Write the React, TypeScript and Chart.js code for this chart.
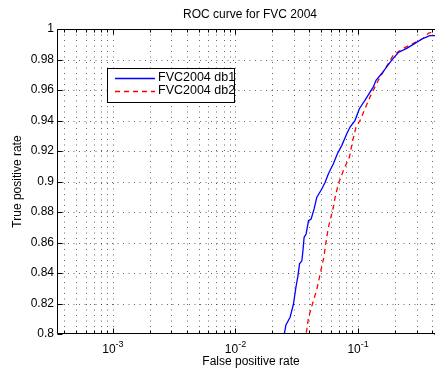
import { useEffect, useRef } from "react";
import { Chart, registerables } from "chart.js";

Chart.register(...registerables);

const chartTitle = "ROC curve for FVC 2004";
const xAxisTitle = "False positive rate";
const yAxisTitle = "True positive rate";
const seriesNames = ["FVC2004 db1", "FVC2004 db2"];

const db1Fpr = [0.0245, 0.025, 0.0258, 0.0279, 0.0297, 0.0311, 0.0323, 0.0333, 0.0348, 0.0355, 0.0363, 0.0377, 0.0394, 0.0414, 0.0438, 0.0461, 0.0506, 0.0539, 0.0573, 0.0629, 0.0678, 0.0737, 0.0809, 0.0861, 0.0945, 0.1025, 0.114, 0.1332, 0.1401, 0.156, 0.1713, 0.1881, 0.2129, 0.2493, 0.2912, 0.3403, 0.3858, 0.4181, 0.5];
const db1Tpr = [0.795, 0.8, 0.806, 0.811, 0.8195, 0.8305, 0.838, 0.846, 0.848, 0.8546, 0.8634, 0.8656, 0.8743, 0.8754, 0.882, 0.8897, 0.8951, 0.8995, 0.9051, 0.9116, 0.9182, 0.9237, 0.9313, 0.9357, 0.9401, 0.9477, 0.9533, 0.962, 0.9664, 0.9708, 0.9752, 0.9796, 0.9846, 0.9873, 0.9906, 0.9939, 0.9956, 0.9956, 0.9956];

const db2Fpr = [0.037, 0.0377, 0.0394, 0.042, 0.0461, 0.049, 0.0529, 0.0539, 0.0573, 0.0629, 0.065, 0.0691, 0.0759, 0.085, 0.0905, 0.0963, 0.1038, 0.114, 0.1252, 0.1375, 0.1463, 0.1607, 0.1765, 0.1939, 0.2338, 0.282, 0.3403, 0.3737, 0.4058, 0.45];
const db2Tpr = [0.795, 0.8, 0.8107, 0.8184, 0.8294, 0.8393, 0.8513, 0.8568, 0.87, 0.8831, 0.8897, 0.8985, 0.9072, 0.916, 0.927, 0.9357, 0.9401, 0.9478, 0.9555, 0.962, 0.9664, 0.972, 0.9774, 0.9829, 0.9873, 0.9906, 0.9939, 0.9971, 0.9982, 1.0];

const yTicks = [0.8, 0.82, 0.84, 0.86, 0.88, 0.9, 0.92, 0.94, 0.96, 0.98, 1];
const yTickLabels = ["0.8", "0.82", "0.84", "0.86", "0.88", "0.9", "0.92", "0.94", "0.96", "0.98", "1"];
const xMajorTicks = [0.001, 0.01, 0.1];
const xTickExponents = ["-3", "-2", "-1"];
const xDecades = [-4, -3, -2, -1, 0];
const xMin = 0.00035;
const xMax = 0.466;
const yMin = 0.8;
const yMax = 1;

const FONT = "Liberation Sans, Arial, Helvetica, sans-serif";

const matlabPlugin = {
  id: "matlabDecor",
  beforeDatasetsDraw(chart: any) {
    const { ctx, chartArea: a, scales } = chart;
    const xs = scales.x;
    const ys = scales.y;
    ctx.save();
    ctx.strokeStyle = "rgba(0,0,0,0.6)";
    ctx.lineWidth = 1;
    ctx.setLineDash([1, 4.5]);
    for (const d of xDecades) {
      for (let k = 1; k <= 9; k++) {
        const v = k * Math.pow(10, d);
        if (v <= xMin || v >= xMax) continue;
        const px = Math.round(xs.getPixelForValue(v)) + 0.5;
        ctx.beginPath();
        ctx.moveTo(px, a.top);
        ctx.lineTo(px, a.bottom);
        ctx.stroke();
      }
    }
    for (const t of yTicks) {
      if (t <= yMin || t >= yMax) continue;
      const py = Math.round(ys.getPixelForValue(t)) + 0.5;
      ctx.beginPath();
      ctx.moveTo(a.left, py);
      ctx.lineTo(a.right, py);
      ctx.stroke();
    }
    ctx.restore();
  },
  afterDatasetsDraw(chart: any) {
    const { ctx, chartArea: a, scales } = chart;
    const xs = scales.x;
    const ys = scales.y;
    ctx.save();
    ctx.setLineDash([]);
    ctx.strokeStyle = "#000";
    ctx.lineWidth = 1;
    const L = Math.round(a.left) + 0.5;
    const R = Math.round(a.right) - 0.5;
    const T = Math.round(a.top) + 0.5;
    const B = Math.round(a.bottom) - 0.5;
    ctx.beginPath();
    ctx.rect(L, T, R - L, B - T);
    ctx.stroke();
    for (const t of yTicks) {
      const py = Math.round(ys.getPixelForValue(t)) + 0.5;
      ctx.beginPath();
      ctx.moveTo(L, py);
      ctx.lineTo(L + 5, py);
      ctx.moveTo(R, py);
      ctx.lineTo(R - 5, py);
      ctx.stroke();
    }
    for (const d of xDecades) {
      for (let k = 1; k <= 9; k++) {
        const v = k * Math.pow(10, d);
        if (v <= xMin || v >= xMax) continue;
        const len = k === 1 ? 5 : 3;
        const px = Math.round(xs.getPixelForValue(v)) + 0.5;
        ctx.beginPath();
        ctx.moveTo(px, B);
        ctx.lineTo(px, B - len);
        ctx.moveTo(px, T);
        ctx.lineTo(px, T + len);
        ctx.stroke();
      }
    }
    ctx.fillStyle = "#000";
    ctx.font = `12px ${FONT}`;
    ctx.textAlign = "right";
    ctx.textBaseline = "middle";
    yTicks.forEach((t, i) => {
      ctx.fillText(yTickLabels[i], a.left - 3, ys.getPixelForValue(t));
    });
    xMajorTicks.forEach((v, i) => {
      const px = xs.getPixelForValue(v);
      ctx.font = `12px ${FONT}`;
      const w1 = ctx.measureText("10").width;
      ctx.font = `9px ${FONT}`;
      const w2 = ctx.measureText(xTickExponents[i]).width;
      const start = px - (w1 + w2) / 2;
      ctx.textAlign = "left";
      ctx.textBaseline = "alphabetic";
      ctx.font = `12px ${FONT}`;
      ctx.fillText("10", start, a.bottom + 19);
      ctx.font = `9px ${FONT}`;
      ctx.fillText(xTickExponents[i], start + w1, a.bottom + 13);
    });
    ctx.font = `12px ${FONT}`;
    ctx.textAlign = "center";
    ctx.textBaseline = "middle";
    ctx.fillText(chartTitle, 250, 15);
    ctx.fillText(xAxisTitle, 251, 362);
    ctx.save();
    ctx.translate(18, (a.top + a.bottom) / 2);
    ctx.rotate(-Math.PI / 2);
    ctx.fillText(yAxisTitle, 0, 0);
    ctx.restore();
    const lx = 107.5, ly = 68.5, lw = 127, lh = 34;
    ctx.fillStyle = "#fff";
    ctx.fillRect(lx, ly, lw, lh);
    ctx.strokeStyle = "#000";
    ctx.lineWidth = 1;
    ctx.strokeRect(lx, ly, lw, lh);
    const ds = chart.data.datasets;
    const rows = [78, 91];
    rows.forEach((ry, i) => {
      ctx.strokeStyle = ds[i].borderColor;
      ctx.lineWidth = 1.3;
      ctx.setLineDash(ds[i].borderDash || []);
      ctx.beginPath();
      ctx.moveTo(115, ry + 0.5);
      ctx.lineTo(155, ry + 0.5);
      ctx.stroke();
      ctx.setLineDash([]);
      ctx.fillStyle = "#000";
      ctx.font = `12.5px ${FONT}`;
      ctx.textAlign = "left";
      ctx.textBaseline = "middle";
      ctx.fillText(seriesNames[i], 158, ry);
    });
    ctx.restore();
  },
};

export default function App() {
  const ref = useRef<HTMLCanvasElement | null>(null);
  useEffect(() => {
    document.body.style.margin = "0";
    document.body.style.overflow = "hidden";
    const canvas = ref.current;
    if (!canvas) return;
    const chart = new Chart(canvas, {
      type: "line",
      data: {
        datasets: [
          {
            label: seriesNames[0],
            data: db1Fpr.map((x, i) => ({ x, y: db1Tpr[i] })),
            borderColor: "#0000ff",
            borderWidth: 1.3,
            pointRadius: 0,
            tension: 0,
            fill: false,
          },
          {
            label: seriesNames[1],
            data: db2Fpr.map((x, i) => ({ x, y: db2Tpr[i] })),
            borderColor: "#ff0000",
            borderWidth: 1.3,
            borderDash: [5, 4],
            pointRadius: 0,
            tension: 0,
            fill: false,
          },
        ],
      },
      options: {
        animation: false,
        responsive: false,
        events: [],
        layout: { padding: { left: 57, top: 29, right: 0, bottom: 35 } },
        plugins: { legend: { display: false }, title: { display: false }, tooltip: { enabled: false } },
        scales: {
          x: { type: "logarithmic", min: xMin, max: xMax, display: false },
          y: { type: "linear", min: yMin, max: yMax, display: false },
        },
      },
      plugins: [matlabPlugin],
    });
    return () => chart.destroy();
  }, []);
  return (
    <div style={{ position: "absolute", left: 0, top: 0, width: 440, height: 369, background: "#fff" }}>
      <canvas ref={ref} width={440} height={369} />
    </div>
  );
}
